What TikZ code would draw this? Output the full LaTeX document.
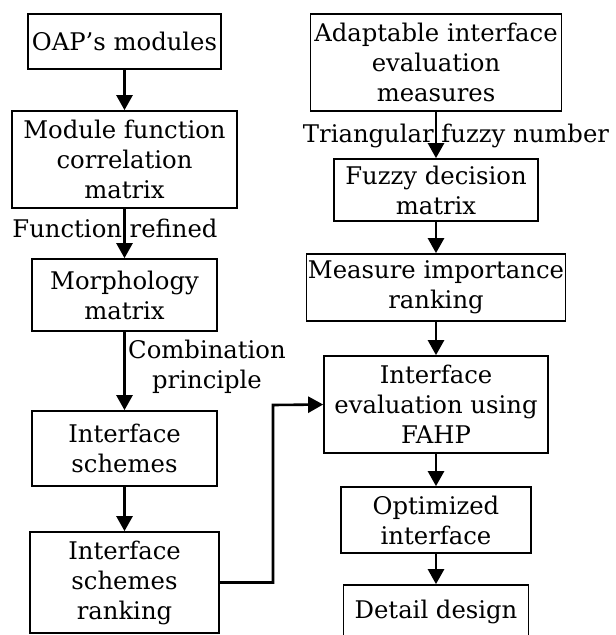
\documentclass[tikz,border=0pt]{standalone}
\usepackage{fontspec}
\setmainfont{DejaVu Serif}
\usetikzlibrary{arrows.meta}
\begin{document}
\begin{tikzpicture}[x=1pt,y=-1pt,
  box/.style={draw, line width=1.7pt, inner sep=0pt, align=center,
    font=\fontsize{24.3}{30}\selectfont},
  lbl/.style={inner sep=0pt, align=center, font=\fontsize{24.3}{30}\selectfont},
  arr/.style={line width=2.6pt, -{Triangle[width=16pt,length=15pt]}}]
\useasboundingbox (0,0) rectangle (616,635);
% left column
\node[box, minimum width=193pt, minimum height=55pt] (oap) at (124.5,41.5) {OAP’s modules};
\node[box, minimum width=225pt, minimum height=97pt] (mod) at (124.5,159.5) {Module function\\correlation\\matrix};
\node[box, minimum width=185pt, minimum height=72pt] (morph) at (124.5,295) {Morphology\\matrix};
\node[box, minimum width=185pt, minimum height=75pt] (sch) at (124.5,448.5) {Interface\\schemes};
\node[box, minimum width=189pt, minimum height=101pt] (rank) at (124.5,582.5) {Interface\\schemes\\ranking};
% right column
\node[box, minimum width=251pt, minimum height=97pt] (adapt) at (436,62.5) {Adaptable interface\\evaluation\\measures};
\node[box, minimum width=204pt, minimum height=62pt] (fuzzy) at (436,190) {Fuzzy decision\\matrix};
\node[box, minimum width=259pt, minimum height=67pt] (meas) at (436,287.5) {Measure importance\\ranking};
\node[box, minimum width=224pt, minimum height=97pt] (eval) at (436,404.5) {Interface\\evaluation using\\FAHP};
\node[box, minimum width=190pt, minimum height=66pt] (opt) at (436,520) {Optimized\\interface};
\node[box, minimum width=185pt, minimum height=54pt] (det) at (436,612) {Detail design};
% labels
\node[lbl, anchor=base] (l1) at (115,237) {Function refined};
\node[lbl, anchor=base] (l2) at (456,142) {Triangular fuzzy number};
\node[lbl, anchor=base] (l3) at (207,388) {Combination\\principle};
% connectors
\draw[arr] (oap) -- (mod);
\draw[arr] (mod) -- (morph);
\draw[arr] (morph) -- (sch);
\draw[arr] (sch) -- (rank);
\draw[arr] (adapt) -- (fuzzy);
\draw[arr] (fuzzy) -- (meas);
\draw[arr] (meas) -- (eval);
\draw[arr] (eval) -- (opt);
\draw[arr] (opt) -- (det);
\coordinate (bend) at (273,405);
\draw[arr] (rank.east) -| (bend) -- (eval.west);
\end{tikzpicture}
\end{document}
